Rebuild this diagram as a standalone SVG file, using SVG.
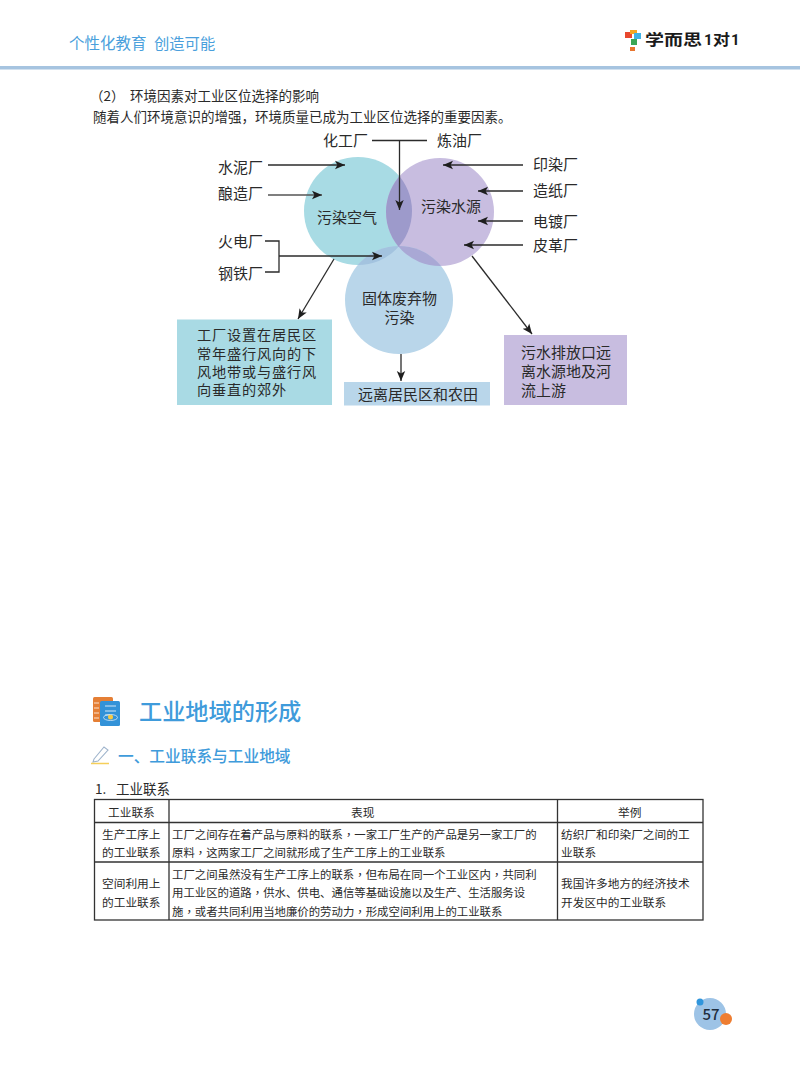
<svg xmlns="http://www.w3.org/2000/svg" width="800" height="1078" viewBox="0 0 800 1078">
<style>
text{font-family:"Noto Sans CJK SC","Noto Sans",sans-serif;fill:#2a2a2a}
.d{font-size:15px}
.bl{font-size:14.2px;letter-spacing:0.8px}
.m{text-anchor:middle}
.b{font-size:13.5px}
.t{font-size:11.4px}
.h{font-size:11.7px}
.tc{font-family:"Noto Sans CJK TC",sans-serif}
.c{fill:none;stroke:#2b2b2b;stroke-width:1.3}
.a{marker-end:url(#ah)}
.g{fill:none;stroke:#333;stroke-width:1.3}
.blue{fill:#3f9bdb}
.lg{font-size:15px;font-weight:700;fill:#1a1a1a}
.lg1{font-family:Roboto,sans-serif;font-size:15px;font-weight:700;fill:#1a1a1a}
</style>
<defs>
<marker id="ah" markerUnits="userSpaceOnUse" markerWidth="11" markerHeight="10" refX="10" refY="5" orient="auto"><path d="M0,0.8 L10,5 L0,9.2 L2.4,5 Z" fill="#1e1e1e"/></marker>
<clipPath id="ca"><circle cx="358" cy="211" r="54"/></clipPath>
<clipPath id="cw"><circle cx="440" cy="212" r="54"/></clipPath>
</defs>
<rect width="800" height="1078" fill="#fff"/>

<g id="header">
<text x="69" y="49" font-size="15.5" style="fill:#4a9fdc">个性化教育</text>
<text x="154" y="49" font-size="15.3" style="fill:#4a9fdc">创造可能</text>
<rect x="0" y="66" width="800" height="3.5" fill="#a6c4e0"/>
</g>
<g id="logo">
<rect x="625" y="32" width="7" height="6" fill="#e8482f"/>
<rect x="630" y="30" width="7" height="4" fill="#f5a623"/>
<rect x="634" y="33" width="7" height="6" fill="#3fb2e6"/>
<rect x="631" y="39" width="6" height="6" fill="#3aa655"/>
<rect x="630" y="47" width="5" height="4" fill="#e8752f"/>
<text x="645" y="45" class="lg" textLength="57" lengthAdjust="spacingAndGlyphs">学而思</text>
<text x="704" y="45" class="lg1">1</text>
<text x="713" y="45" class="lg" textLength="17" lengthAdjust="spacingAndGlyphs">对</text>
<text x="731" y="45" class="lg1">1</text>
</g>

<g id="intro">
<text x="90" y="101" class="b">（2）</text>
<text x="130" y="101" class="b">环境因素对工业区位选择的影响</text>
<text x="93" y="122" class="b">随着人们环境意识的增强，环境质量已成为工业区位选择的重要因素。</text>
</g>

<g id="circle-air"><circle cx="358" cy="211" r="54" fill="#a8dbe4"/><text x="347" y="222.500" class="d m">污染空气</text></g>
<g id="circle-water"><circle cx="440" cy="212" r="54" fill="#c8bde0"/><text x="451" y="211.500" class="d m">污染水源</text></g>
<g id="circle-solid">
<circle cx="399" cy="300" r="54" fill="#b9d6ea"/>
<g clip-path="url(#ca)"><circle cx="399" cy="300" r="54" fill="#a3c3df"/></g>
<g clip-path="url(#cw)"><circle cx="399" cy="300" r="54" fill="#a9a8d5"/></g>
<g clip-path="url(#ca)"><circle cx="440" cy="212" r="54" fill="#9d9acb"/></g>
<text x="399.500" y="303.500" class="d m">固体废弃物</text><text x="399.500" y="322.500" class="d m">污染</text>
</g>

<g id="box-left"><rect x="177" y="319.500" width="155" height="85.500" fill="#a9dae4"/>
<text x="197" y="340.400" class="bl">工厂设置在居民区</text><text x="197" y="358.700" class="bl">常年盛行风向的下</text><text x="197" y="377.100" class="bl">风地带或与盛行风</text><text x="197" y="395.400" class="bl">向垂直的郊外</text></g>
<g id="box-middle"><rect x="344" y="382" width="146" height="23.500" fill="#b9d6ea"/><text x="358" y="399.500" class="d">远离居民区和农田</text></g>
<g id="box-right"><rect x="504" y="335" width="123" height="70" fill="#c8bde0"/>
<text x="521" y="357.500" class="d">污水排放口远</text><text x="521" y="376.500" class="d">离水源地及河</text><text x="521" y="395.500" class="d">流上游</text></g>

<g id="labels">
<text x="323" y="145.500" class="d">化工厂</text><text x="437" y="145.500" class="d">炼油厂</text>
<text x="218" y="172.500" class="d">水泥厂</text><text x="218" y="198.500" class="d">酿造厂</text>
<text x="218" y="246.500" class="d">火电厂</text><text x="218" y="278.500" class="d">钢铁厂</text>
<text x="533" y="169.500" class="d">印染厂</text><text x="533" y="195.500" class="d">造纸厂</text>
<text x="533" y="226.500" class="d">电镀厂</text><text x="533" y="250.500" class="d">皮革厂</text>
</g>

<g id="connectors">
<path class="c" d="M372,140.500H427"/>
<path class="c a" d="M399.500,140.500V210"/>
<path class="c a" d="M268,165H345"/>
<path class="c a" d="M268,195H322" style="stroke:#555"/>
<path class="c" d="M265,241H279V272H265"/>
<path class="c a" d="M279,256H382"/>
<path class="c a" d="M334,259L298,319"/>
<path class="c a" d="M401,354V381"/>
<path class="c a" d="M523,165H443"/>
<path class="c a" d="M523,191H478"/>
<path class="c a" d="M523,221H478"/>
<path class="c a" d="M523,245H464"/>
<path class="c a" d="M472,256L532,334"/>
</g>

<g id="section-icon">
<rect x="93" y="697" width="20" height="25" rx="1.500" fill="#e57f35"/>
<rect x="100" y="701" width="20" height="25" rx="1.500" fill="#3292d8"/>
<path d="M105,706H116M105,711H116M105,715H110" stroke="#cfe6f7" stroke-width="1.200" fill="none"/>
<path d="M94,703H99M94,708H99M94,713H99M94,718H99" stroke="#fbe3cf" stroke-width="1" fill="none"/>
<circle cx="110.500" cy="717" r="2.500" fill="#f6c945"/>
<ellipse cx="110.500" cy="717.500" rx="7" ry="3" fill="none" stroke="#d6e9f8" stroke-width="0.800"/>
</g>
<text id="title" x="139" y="719.500" font-size="23.200" font-weight="500" class="blue">工业地域的形成</text>
<g id="pencil-icon">
<path d="M94,759L104,747L108,750L98,761L93,762Z" fill="#fff" stroke="#9fb4cc" stroke-width="1.100"/>
<path d="M91,763.500H109" stroke="#f5cf5a" stroke-width="1.500"/>
</g>
<text id="subtitle" x="118" y="762" font-size="15.700" font-weight="500" class="blue">一、工业联系与工业地域</text>
<text id="table-title" y="794" class="b"><tspan x="95">1.</tspan><tspan x="116">工业联系</tspan></text>

<g id="table">
<rect class="g" x="94.500" y="799.500" width="608.500" height="120.500"/>
<path class="g" d="M94.500,822.500H703M94.500,862H703M169,799.500V920M557.500,799.500V920"/>
<text x="108" y="816.500" class="h">工业联系</text><text x="351" y="816.500" class="h">表现</text><text x="618" y="816.500" class="h">举例</text>
<text x="102" y="838.500" class="h">生产工序上</text><text x="102" y="856.500" class="h">的工业联系</text>
<text x="102" y="887.500" class="h">空间利用上</text><text x="102" y="906.500" class="h">的工业联系</text>
<text x="172" y="838.500" class="t">工厂之间存在着产品与原料的联系<tspan class="tc">，</tspan>一家工厂生产的产品是另一家工厂的</text>
<text x="172" y="856.500" class="t">原料<tspan class="tc">，</tspan>这两家工厂之间就形成了生产工序上的工业联系</text>
<text x="172" y="878.500" class="t">工厂之间虽然没有生产工序上的联系<tspan class="tc">，</tspan>但布局在同一个工业区内<tspan class="tc">，</tspan>共同利</text>
<text x="172" y="896.500" class="t">用工业区的道路<tspan class="tc">，</tspan>供水、供电、通信等基础设施以及生产、生活服务设</text>
<text x="172" y="915.500" class="t">施<tspan class="tc">，</tspan>或者共同利用当地廉价的劳动力<tspan class="tc">，</tspan>形成空间利用上的工业联系</text>
<text x="561" y="838.500" class="h">纺织厂和印染厂之间的工</text><text x="561" y="856.500" class="h">业联系</text>
<text x="561" y="887.500" class="h">我国许多地方的经济技术</text><text x="561" y="906.500" class="h">开发区中的工业联系</text>
</g>

<g id="page-number">
<circle cx="710" cy="1014" r="16" fill="#9dc3e6"/>
<circle cx="700" cy="1002" r="3.500" fill="#2f95dc"/>
<circle cx="726" cy="1019" r="6" fill="#ee7d31"/>
<text x="711" y="1019.500" font-size="15" font-weight="500" text-anchor="middle" style="fill:#1f2d3d">57</text>
</g>
</svg>
